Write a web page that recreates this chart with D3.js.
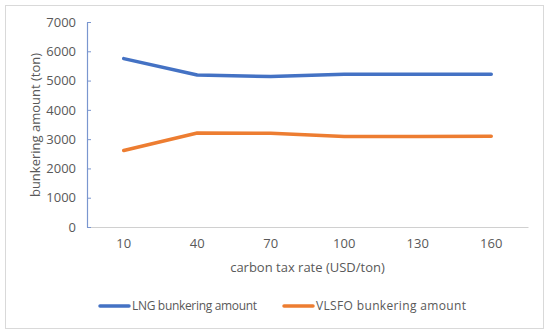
<!DOCTYPE html>
<html>
<head>
<meta charset="utf-8">
<script src="https://cdn.jsdelivr.net/npm/d3@7"></script>
<style>
body{margin:0;background:#fff;}
text{font-family:"Open Sans","Liberation Sans",sans-serif;fill:#595959;}
</style>
</head>
<body>
<svg id="chart" width="550" height="335"></svg>
<script>
var categories = ["10","40","70","100","130","160"];
var lngValues = [5750,5190,5140,5220,5220,5220];
var vlsfoValues = [2610,3210,3200,3090,3090,3100];
var yTicks = [0,1000,2000,3000,4000,5000,6000,7000];

var svg = d3.select("#chart");

// outer frame
svg.append("rect").attr("x",5.5).attr("y",5.5).attr("width",538).attr("height",323)
	.attr("fill","#fff").attr("stroke","#d9d9d9").attr("stroke-width",1);

var plotLeft = 87, plotRight = 528, plotTop = 22, plotBottom = 227;

var x = d3.scaleBand().domain(categories).range([plotLeft,plotRight]);
var y = d3.scaleLinear().domain([0,7000]).range([plotBottom,plotTop]);

// x axis
var xAxis = svg.append("g").attr("transform","translate(0,"+plotBottom+")")
	.call(d3.axisBottom(x).tickSize(0).tickPadding(12));
xAxis.select(".domain").attr("stroke","#d0d0d0");
xAxis.selectAll("text").style("font-size","13px").attr("fill","#595959");

// y axis
var yAxis = svg.append("g").attr("transform","translate("+plotLeft+",0)")
	.call(d3.axisLeft(y).tickValues(yTicks).tickFormat(d3.format("d")).tickSize(0).tickPadding(11));
yAxis.select(".domain").attr("stroke","#7a96cf").attr("stroke-width",1.2);
yAxis.selectAll("text").style("font-size","13px").attr("fill","#595959");
yAxis.selectAll(".tick").append("line").attr("x1",0).attr("x2",4).attr("stroke","#7a96cf");

// titles
svg.append("text").attr("x",(plotLeft+plotRight)/2).attr("y",272).attr("text-anchor","middle")
	.style("font-size","13px").text("carbon tax rate (USD/ton)");
svg.append("text").attr("transform","translate(40,125) rotate(-90)").attr("text-anchor","middle")
	.style("font-size","13px").text("bunkering amount (ton)");

var line = d3.line().x(function(d,i){return x(categories[i]) + x.bandwidth()/2;}).y(function(d){return y(d);});

svg.append("path").datum(lngValues).attr("d",line).attr("fill","none")
	.attr("stroke","#4472C4").attr("stroke-width",3.5).attr("stroke-linecap","round").attr("stroke-linejoin","round");
svg.append("path").datum(vlsfoValues).attr("d",line).attr("fill","none")
	.attr("stroke","#ED7D31").attr("stroke-width",3.5).attr("stroke-linecap","round").attr("stroke-linejoin","round");

// legend
var legend = [{name:"LNG bunkering amount",color:"#4472C4",x:100},{name:"VLSFO bunkering amount",color:"#ED7D31",x:284}];
var lg = svg.selectAll(".lg").data(legend).enter().append("g").attr("class","lg")
	.attr("transform",function(d){return "translate("+d.x+",306)";});
lg.append("line").attr("x1",0).attr("x2",29).attr("stroke",function(d){return d.color;})
	.attr("stroke-width",3.5).attr("stroke-linecap","round");
lg.append("text").attr("x",32).attr("dy","0.35em").style("font-size","12px")
	.attr("textLength",function(d){return d.x < 200 ? 125 : 150;})
	.text(function(d){return d.name;});
</script>
</body>
</html>
